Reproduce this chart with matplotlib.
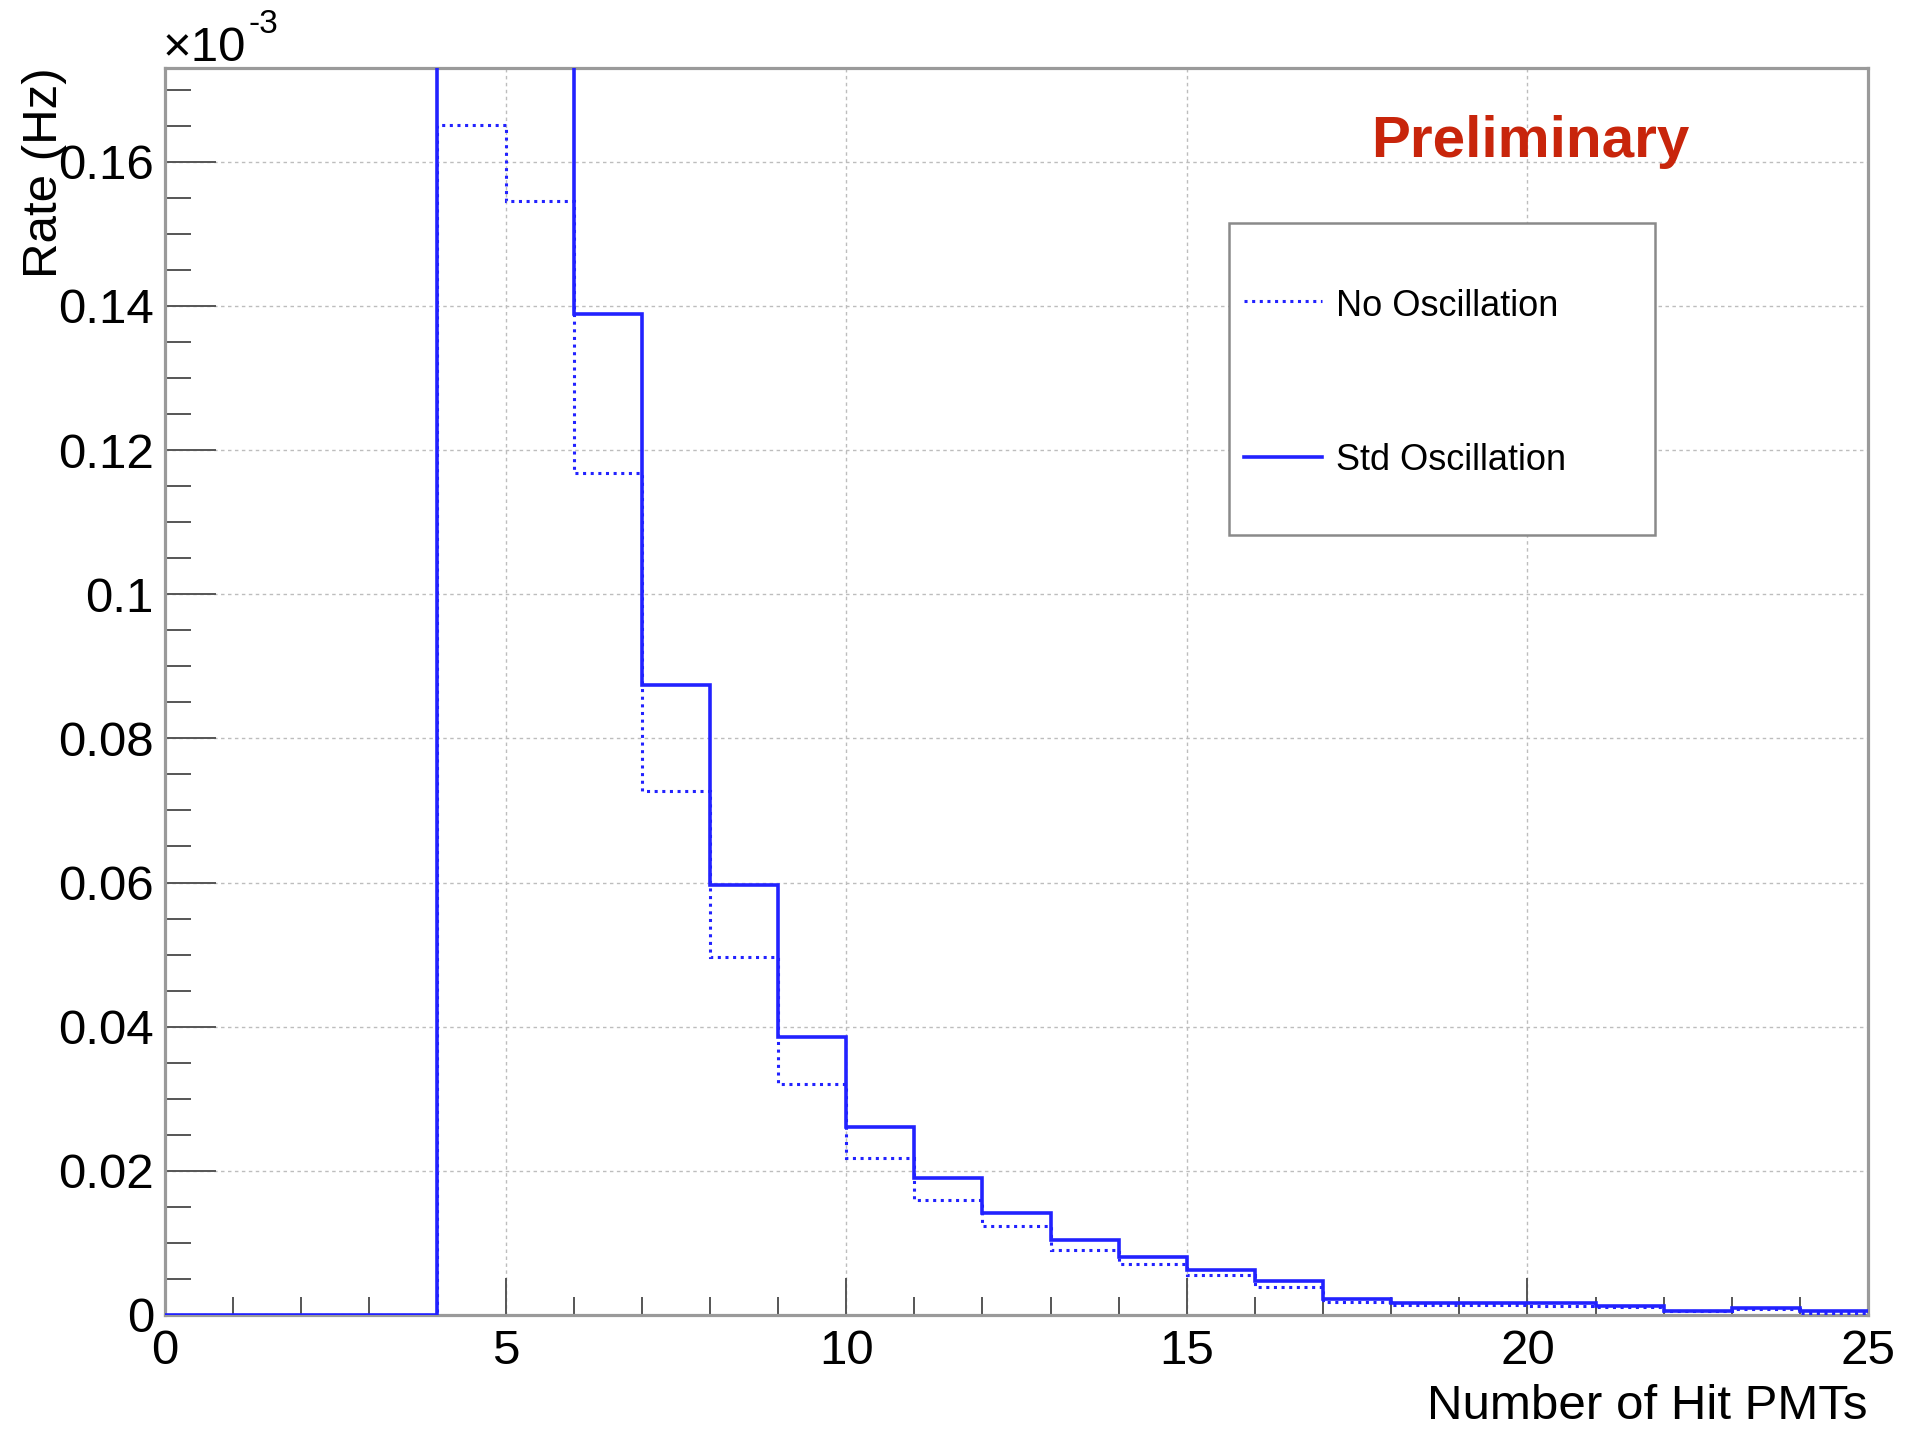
import numpy as np
import matplotlib
matplotlib.use("Agg")
import matplotlib.pyplot as plt
from matplotlib.patches import Rectangle
from matplotlib.lines import Line2D
from matplotlib.ticker import MultipleLocator, FuncFormatter

plt.rcParams['font.family'] = ['Liberation Sans', 'DejaVu Sans']

# unit-width bins in number of hit PMTs
edges = np.arange(0, 26)

# rate per bin, in units of 1e-3 Hz
std_osc = [0, 0, 0, 0, 0.197, 0.184, 0.1389, 0.0874, 0.0597, 0.0386,
           0.0261, 0.0190, 0.0142, 0.0104, 0.0081, 0.0063, 0.0047,
           0.0022, 0.0017, 0.0016, 0.0016, 0.0013, 0.0006, 0.0010, 0.0005]
no_osc = [0, 0, 0, 0, 0.1651, 0.1545, 0.1168, 0.0727, 0.0497, 0.0320,
          0.0218, 0.0159, 0.0123, 0.0090, 0.0071, 0.0055, 0.0039,
          0.0018, 0.0014, 0.0014, 0.0013, 0.0011, 0.0005, 0.0008, 0.0003]

labels = ["No Oscillation", "Std Oscillation"]

W, H = 1906, 1429
blue = '#2222ff'
dots = (0, (1, 1.5))


def fx(x):
    return x / W


def fy(y):
    return 1 - y / H


fig = plt.figure(figsize=(W / 100, H / 100), dpi=100)
ax = fig.add_axes([fx(165), fy(1315), (1868 - 165) / W, (1315 - 68) / H])

ax.stairs(no_osc, edges, baseline=None, color=blue, lw=2.2, ls=dots, zorder=3)
ax.stairs(std_osc, edges, baseline=None, color=blue, lw=2.6, zorder=3)

ax.set_xlim(0, 25)
ax.set_ylim(0, 0.173)
ax.xaxis.set_major_locator(MultipleLocator(5))
ax.xaxis.set_minor_locator(MultipleLocator(1))
ax.yaxis.set_major_locator(MultipleLocator(0.02))
ax.yaxis.set_minor_locator(MultipleLocator(0.005))
ax.yaxis.set_major_formatter(FuncFormatter(lambda v, p: f'{v:.2f}'.rstrip('0').rstrip('.')))
ax.xaxis.set_major_formatter(FuncFormatter(lambda v, p: f'{v:g}'))

tick_col = '#555555'
ax.tick_params(axis='y', which='major', direction='in', length=36.7, width=1.4,
               color=tick_col, labelsize=35.5, pad=8, right=False)
ax.tick_params(axis='y', which='minor', direction='in', length=18.7, width=1.4,
               color=tick_col, right=False)
ax.tick_params(axis='x', which='major', direction='in', length=26.6, width=1.4,
               color=tick_col, labelsize=35.5, pad=10, top=False)
ax.tick_params(axis='x', which='minor', direction='in', length=13, width=1.4,
               color=tick_col, top=False)

ax.set_axisbelow(True)
ax.grid(which='major', color='#bdbdbd', linestyle=(0, (2.5, 2.5)), linewidth=1.0)
for s in ax.spines.values():
    s.set_color('#9a9a9a')
    s.set_linewidth(2.3)

# legend box
fig.add_artist(Rectangle((fx(1229), fy(535)), (1655 - 1229) / W, (535 - 223) / H,
                         transform=fig.transFigure, facecolor='white',
                         edgecolor='#8a8a8a', lw=1.8, zorder=5))
fig.add_artist(Line2D([fx(1244), fx(1322)], [fy(301)] * 2, transform=fig.transFigure,
                      color=blue, lw=2.2, ls=dots, zorder=6))
fig.add_artist(Line2D([fx(1244), fx(1322)], [fy(457)] * 2, transform=fig.transFigure,
                      color=blue, lw=2.6, zorder=6))
fig.text(fx(1336), fy(316), labels[0], fontsize=26, va='baseline', zorder=6)
fig.text(fx(1336), fy(470), labels[1], fontsize=26, va='baseline', zorder=6)

fig.text(fx(1371), fy(157), 'Preliminary', fontsize=42, fontweight='bold',
         color='#c8250b', va='baseline')

# axis titles and exponent
fig.text(fx(163), fy(61), '\u00d710', fontsize=35.5, va='baseline')
fig.text(fx(249), fy(33), '-3', fontsize=24, va='baseline')
fig.text(fx(45), fy(67), 'Rate (Hz)', fontsize=35.5, rotation=90, ha='center', va='top')
fig.text(fx(1868), fy(1419), 'Number of Hit PMTs', fontsize=35.5, ha='right', va='baseline')

fig.savefig('out.png', dpi=100)
